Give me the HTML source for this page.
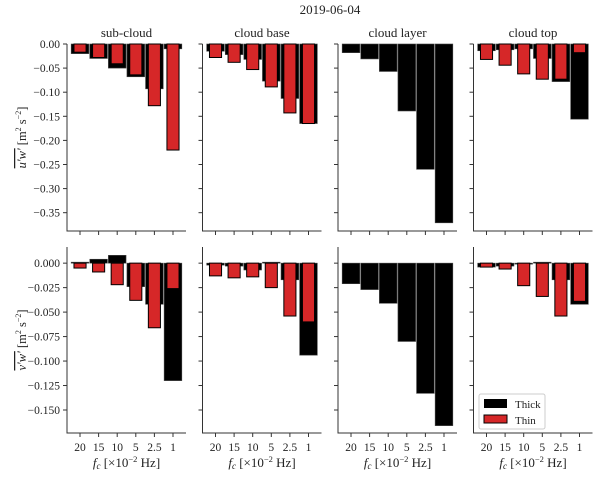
<!DOCTYPE html>
<html><head><meta charset="utf-8"><style>
body{margin:0;background:#fff}
svg text{font-family:"Liberation Serif",serif;fill:#222}
</style></head><body>
<svg id="c" width="600" height="475" xmlns="http://www.w3.org/2000/svg">
<text x="330" y="14" font-size="13" text-anchor="middle">2019-06-04</text>
</svg>
<script>
const categories = ["20","15","10","5","2.5","1"];
const panelTitles = ["sub-cloud","cloud base","cloud layer","cloud top"];
const uwThick = [
 [-0.02,-0.03,-0.05,-0.068,-0.093,-0.01],
 [-0.015,-0.022,-0.032,-0.077,-0.113,-0.165],
 [-0.018,-0.031,-0.057,-0.139,-0.26,-0.371],
 [-0.014,-0.012,-0.01,-0.03,-0.078,-0.156]];
const uwThin = [
 [-0.017,-0.028,-0.041,-0.064,-0.128,-0.22],
 [-0.028,-0.038,-0.053,-0.089,-0.143,-0.165],
 null,
 [-0.032,-0.044,-0.062,-0.073,-0.073,-0.018]];
const vwThick = [
 [0.001,0.004,0.008,-0.024,-0.042,-0.12],
 [-0.002,-0.003,-0.007,0.001,-0.017,-0.094],
 [-0.021,-0.027,-0.041,-0.08,-0.133,-0.166],
 [-0.004,-0.003,-0.001,0.001,-0.017,-0.042]];
const vwThin = [
 [-0.005,-0.009,-0.022,-0.038,-0.066,-0.026],
 [-0.013,-0.015,-0.014,-0.025,-0.054,-0.06],
 null,
 [-0.004,-0.006,-0.023,-0.034,-0.054,-0.039]];
const uwTicks = [0,-0.05,-0.1,-0.15,-0.2,-0.25,-0.3,-0.35];
const uwTickLabels = ["0.00","\u22120.05","\u22120.10","\u22120.15","\u22120.20","\u22120.25","\u22120.30","\u22120.35"];
const vwTicks = [0,-0.025,-0.05,-0.075,-0.1,-0.125,-0.15];
const vwTickLabels = ["0.000","\u22120.025","\u22120.050","\u22120.075","\u22120.100","\u22120.125","\u22120.150"];

const svg=document.getElementById('c');
const NS="http://www.w3.org/2000/svg";
function mk(tag,attrs,parent){const e=document.createElementNS(NS,tag);for(const k in attrs)e.setAttribute(k,attrs[k]);(parent||svg).appendChild(e);return e;}

const rows=[
 {top:44,bottom:231,ymax:0,ymin:-0.388,thick:uwThick,thin:uwThin,ticks:uwTicks,labels:uwTickLabels,ylab:"u",name:"uw"},
 {top:247,bottom:433,ymax:0.0165,ymin:-0.1735,thick:vwThick,thin:vwThin,ticks:vwTicks,labels:vwTickLabels,ylab:"v",name:"vw"}];
const W=119;
for(let r=0;r<2;r++){
 const R=rows[r];
 const y=v=>R.top+(R.ymax-v)/(R.ymax-R.ymin)*(R.bottom-R.top);
 for(let p=0;p<4;p++){
  const L=67+p*135.5;
  const x=i=>L+(i+0.7)/6.4*W;
  const bw=W/6.4;
  const g=mk('g',{});
  
  
  if(r===0){const t=mk('text',{x:L+W/2,y:37,'font-size':13,'text-anchor':'middle'},g);t.textContent=panelTitles[p];
   }
  R.thick[p].forEach((v,i)=>{
   const y0=y(0),y1=y(v);
   const b=mk('rect',{x:x(i)-bw*0.95/2,y:Math.min(y0,y1),width:bw*0.95,height:Math.max(Math.abs(y1-y0),0.5),fill:'#000',stroke:'#444','stroke-width':0.6},g);
   
  });
  if(R.thin[p])R.thin[p].forEach((v,i)=>{
   const y0=y(0),y1=y(v);
   const b=mk('rect',{x:x(i)-bw*0.65/2,y:Math.min(y0,y1),width:bw*0.65,height:Math.abs(y1-y0),fill:'#d62728',stroke:'#000','stroke-width':1},g);
   
  });
  mk('path',{d:`M${L} ${R.top}V${R.bottom}H${L+W}`,fill:'none',stroke:'#333','stroke-width':1},g);
  R.ticks.forEach((t,k)=>{
   mk('line',{x1:L-4,x2:L,y1:y(t),y2:y(t),stroke:'#333'},g);
   if(p===0){const tx=mk('text',{x:L-7,y:y(t)+4,'font-size':11.5,'text-anchor':'end'},g);tx.textContent=R.labels[k];
    }
  });
  categories.forEach((c,i)=>{
   mk('line',{x1:x(i),x2:x(i),y1:R.bottom,y2:R.bottom+4,stroke:'#333'},g);
   if(r===1){const tx=mk('text',{x:x(i),y:R.bottom+18,'font-size':11.5,'text-anchor':'middle'},g);tx.textContent=c;
    }
  });
  if(r===1){const tx=mk('text',{x:L+W/2,y:467,'font-size':13,'text-anchor':'middle'},g);
   tx.innerHTML='<tspan font-style="italic">f</tspan><tspan font-style="italic" font-size="9" dy="2">c</tspan><tspan dy="-2">  [\u00d710</tspan><tspan font-size="8.5" dy="-5">\u22122</tspan><tspan dy="5"> Hz]</tspan>';
   }
 }
 const cy=(R.top+R.bottom)/2;
 const yt=mk('text',{x:0,y:0,'font-size':12.5,'text-anchor':'middle',transform:`translate(26 ${cy}) rotate(-90)`});
 yt.innerHTML=`<tspan font-style="italic" text-decoration="overline">${R.ylab}\u2032w\u2032</tspan> [m<tspan font-size="8" dy="-5">2</tspan><tspan dy="5"> s</tspan><tspan font-size="8" dy="-5">\u22122</tspan><tspan dy="5">]</tspan>`;
 
 
}
const lg=mk('g',{});


mk('rect',{x:479,y:394,width:66,height:35,fill:'#fff',stroke:'#ccc',rx:2},lg);
mk('rect',{x:484,y:399,width:23,height:9,fill:'#000'},lg);
mk('rect',{x:484,y:415,width:23,height:8,fill:'#d62728',stroke:'#000'},lg);
const t1=mk('text',{x:515,y:408,'font-size':11},lg);t1.textContent='Thick';


const t2=mk('text',{x:515,y:424,'font-size':11},lg);t2.textContent='Thin';


</script>
</body></html>
